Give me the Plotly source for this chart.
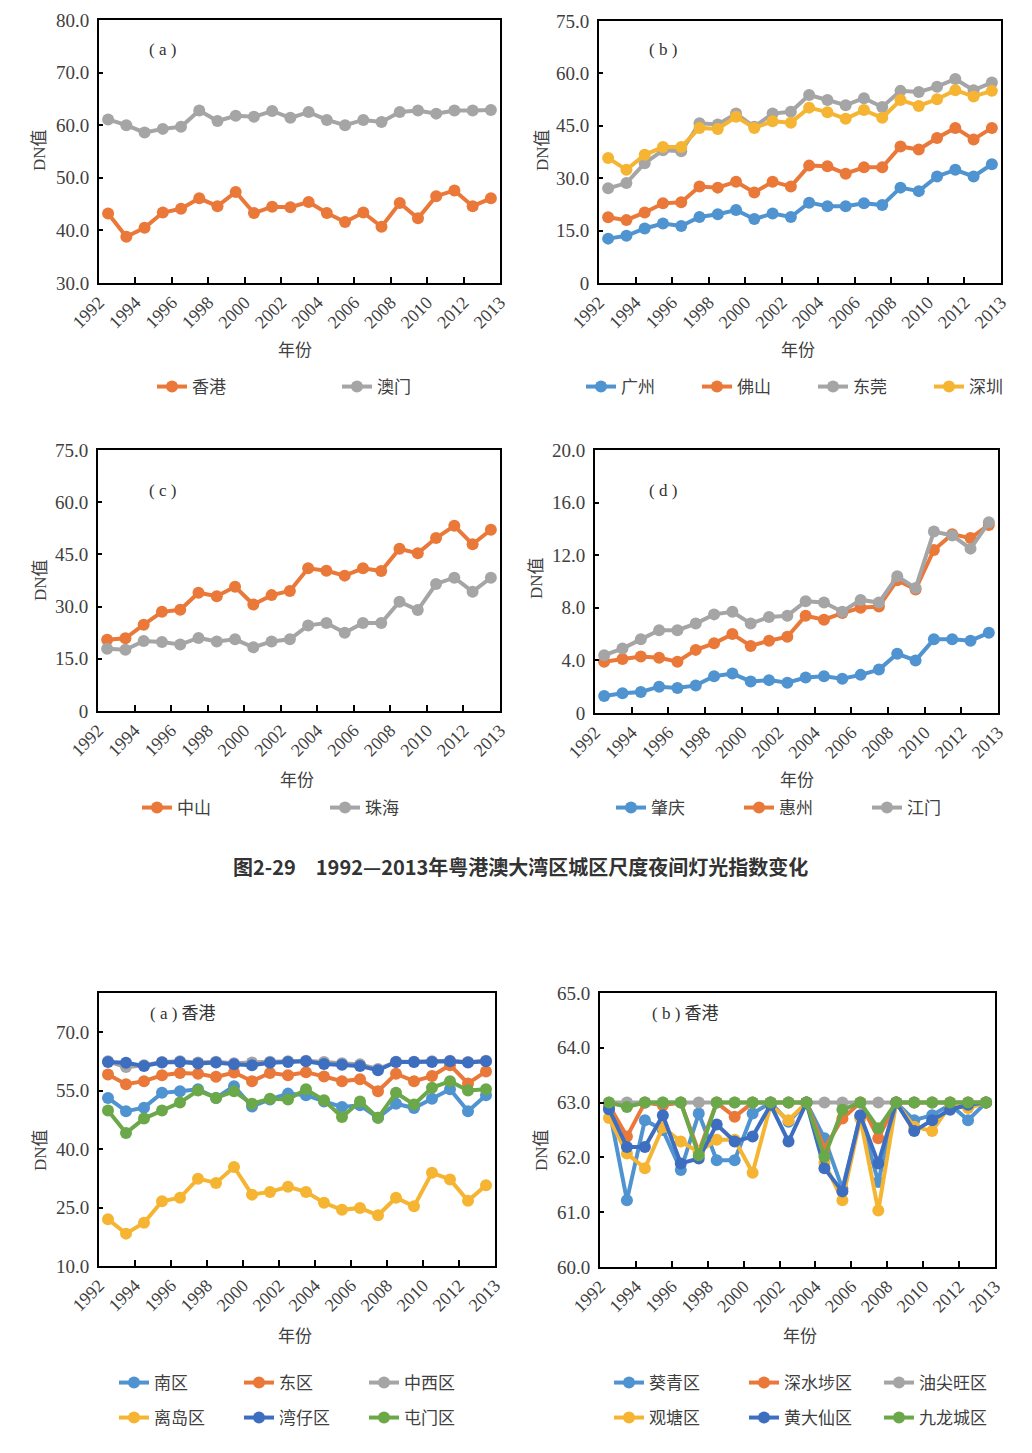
import plotly.graph_objects as go

W, H = 1032, 1453
PAD = 8                      # browser default body margin
FW, FH = W - 2 * PAD, H - 2 * PAD

# ---------------- data ----------------
years = [1992, 1993, 1994, 1995, 1996, 1997, 1998, 1999, 2000, 2001, 2002,
         2003, 2004, 2005, 2006, 2007, 2008, 2009, 2010, 2011, 2012, 2013]
xtick_text = ['1992', '1994', '1996', '1998', '2000', '2002', '2004',
              '2006', '2008', '2010', '2012', '2013']

# (a) 香港 / 澳门
hongkong = [43.2, 38.8, 40.5, 43.4, 44.1, 46.1, 44.6, 47.3, 43.3, 44.5, 44.4,
            45.4, 43.3, 41.6, 43.4, 40.7, 45.2, 42.3, 46.5, 47.6, 44.6, 46.1]
macau = [61.1, 60.0, 58.6, 59.3, 59.7, 62.8, 60.8, 61.8, 61.6, 62.7, 61.4,
         62.5, 61.0, 60.0, 61.0, 60.6, 62.5, 62.8, 62.2, 62.8, 62.8, 62.9]

# (b) 广州 / 佛山 / 东莞 / 深圳
guangzhou = [12.7, 13.5, 15.6, 17.0, 16.3, 18.9, 19.7, 20.9, 18.3, 19.9, 18.9,
             23.0, 22.0, 22.0, 22.8, 22.3, 27.3, 26.3, 30.5, 32.4, 30.5, 34.0]
foshan = [18.8, 18.0, 20.2, 22.8, 23.1, 27.6, 27.3, 29.0, 25.9, 29.0, 27.6,
          33.6, 33.4, 31.3, 33.1, 33.1, 39.1, 38.2, 41.5, 44.4, 41.1, 44.4]
dongguan = [27.1, 28.6, 34.3, 38.0, 37.7, 45.7, 45.4, 48.5, 44.7, 48.5, 49.0,
            53.8, 52.4, 50.9, 52.9, 50.4, 55.0, 54.7, 56.2, 58.4, 55.2, 57.4]
shenzhen = [35.8, 32.4, 36.7, 38.9, 38.9, 44.4, 44.1, 47.6, 44.4, 46.3, 45.9,
            50.2, 48.9, 47.0, 49.5, 47.3, 52.4, 50.7, 52.6, 55.2, 53.4, 55.0]

# (c) 中山 / 珠海
zhongshan = [20.5, 20.9, 24.8, 28.5, 29.1, 34.0, 33.0, 35.7, 30.6, 33.3, 34.5,
             41.0, 40.3, 38.9, 41.0, 40.2, 46.6, 45.3, 49.7, 53.2, 47.9, 52.1]
zhuhai = [17.9, 17.6, 20.1, 19.8, 19.1, 21.0, 20.0, 20.6, 18.3, 20.0, 20.6,
          24.6, 25.3, 22.5, 25.3, 25.3, 31.4, 29.0, 36.5, 38.3, 34.3, 38.3]

# (d) 肇庆 / 惠州 / 江门
zhaoqing = [1.3, 1.5, 1.6, 2.0, 1.9, 2.1, 2.8, 3.0, 2.4, 2.5, 2.3,
            2.7, 2.8, 2.6, 2.9, 3.3, 4.5, 4.0, 5.6, 5.6, 5.5, 6.1]
huizhou = [3.9, 4.1, 4.3, 4.2, 3.9, 4.8, 5.3, 6.0, 5.1, 5.5, 5.8,
           7.4, 7.1, 7.6, 8.0, 8.1, 10.1, 9.4, 12.4, 13.6, 13.3, 14.3]
jiangmen = [4.4, 4.9, 5.6, 6.3, 6.3, 6.8, 7.5, 7.7, 6.8, 7.3, 7.4,
            8.5, 8.4, 7.7, 8.6, 8.4, 10.4, 9.5, 13.8, 13.5, 12.5, 14.5]

# Hong Kong districts (a)
southern = [53.1, 49.7, 50.6, 54.4, 54.8, 55.3, 53.1, 56.1, 50.9, 52.7, 54.2,
            53.8, 52.2, 50.8, 51.2, 48.0, 51.6, 50.5, 52.9, 55.3, 49.7, 53.8]
eastern = [59.1, 56.6, 57.4, 58.9, 59.5, 59.3, 58.5, 59.6, 57.4, 59.5, 58.9,
           59.7, 58.6, 57.4, 57.9, 54.8, 59.3, 57.4, 58.7, 61.5, 56.8, 59.9]
central_western = [62.5, 61.0, 61.5, 62.3, 62.5, 62.2, 62.4, 62.0, 62.2, 62.4, 62.5,
                   62.6, 62.3, 62.0, 61.7, 60.5, 62.4, 62.4, 62.5, 62.6, 62.3, 62.6]
islands = [22.0, 18.3, 21.1, 26.6, 27.5, 32.4, 31.3, 35.4, 28.3, 29.0, 30.3,
           29.0, 26.2, 24.4, 24.9, 23.0, 27.5, 25.3, 33.9, 32.2, 26.7, 30.7]
wanchai = [62.3, 62.1, 61.3, 62.2, 62.3, 61.9, 62.2, 61.7, 61.5, 62.1, 62.3,
           62.5, 61.8, 61.6, 61.3, 60.2, 62.3, 62.3, 62.3, 62.5, 62.2, 62.5]
tuenmun = [49.9, 44.1, 47.8, 49.9, 51.9, 55.0, 53.1, 54.8, 51.6, 52.9, 52.7,
           55.3, 52.5, 48.2, 52.2, 48.0, 54.4, 51.4, 55.7, 57.4, 55.0, 55.3]

# Hong Kong districts (b)
kwaitsing = [62.90, 61.22, 62.68, 62.50, 61.77, 62.80, 61.95, 61.95, 62.80, 63.00, 62.65,
             63.00, 62.35, 61.43, 62.74, 61.55, 63.00, 62.68, 62.77, 62.96, 62.68, 63.00]
shamshuipo = [62.95, 62.38, 63.00, 62.95, 63.00, 62.10, 63.00, 62.74, 63.00, 63.00, 63.00,
              63.00, 62.16, 62.71, 63.00, 62.35, 63.00, 63.00, 63.00, 63.00, 63.00, 63.00]
yautsimmong = [63.0, 63.0, 63.0, 63.0, 63.0, 63.0, 63.0, 63.0, 63.0, 63.0, 63.0,
               63.0, 63.0, 63.0, 63.0, 63.0, 63.0, 63.0, 63.0, 63.0, 63.0, 63.0]
kwuntong = [62.72, 62.07, 61.80, 62.55, 62.29, 62.10, 62.32, 62.32, 61.72, 62.95, 62.68,
            63.00, 61.90, 61.22, 62.71, 61.03, 63.00, 62.56, 62.48, 62.95, 62.90, 63.00]
wongtaisin = [62.88, 62.19, 62.19, 62.77, 61.89, 61.98, 62.60, 62.29, 62.38, 62.96, 62.29,
              63.00, 61.80, 61.38, 62.77, 61.89, 63.00, 62.48, 62.68, 62.87, 62.96, 63.00]
kowlooncity = [63.00, 62.92, 63.00, 63.00, 63.00, 62.04, 63.00, 63.00, 63.00, 63.00, 63.00,
               63.00, 62.01, 62.87, 63.00, 62.53, 63.00, 63.00, 63.00, 63.00, 63.00, 63.00]

# y tick values / labels per panel
yt_a = [30, 40, 50, 60, 70, 80]
yl_a = ['30.0', '40.0', '50.0', '60.0', '70.0', '80.0']
yt_b = [0, 15, 30, 45, 60, 75]
yl_b = ['0', '15.0', '30.0', '45.0', '60.0', '75.0']
yt_d = [0, 4, 8, 12, 16, 20]
yl_d = ['0', '4.0', '8.0', '12.0', '16.0', '20.0']
yt_e = [10, 25, 40, 55, 70]
yl_e = ['10.0', '25.0', '40.0', '55.0', '70.0']
yt_f = [60, 61, 62, 63, 64, 65]
yl_f = ['60.0', '61.0', '62.0', '63.0', '64.0', '65.0']

# ---------------- style ----------------
BLUE = '#4F93D0'
ORANGE = '#EA7839'
GRAY = '#A5A5A5'
YELLOW = '#F5B533'
DBLUE = '#3E6EC0'
GREEN = '#6BA84A'
TXT = '#404040'
SERIF = 'Liberation Serif, Noto Sans CJK SC'


def fx(px):
    return (px - PAD) / FW


def fy(py):
    return 1 - (py - PAD) / FH


# panel boxes in screen pixel coords: (left, right, top, bottom)
panels = [
    dict(box=(99, 500, 20, 283), yr=(30, 80), yt=yt_a, yl=yl_a, lab='( a )', lab_xy=(162, 49),
         dn_xy=(40, 150), nf_xy=(295, 350)),
    dict(box=(599, 1001, 21, 283), yr=(0, 75), yt=yt_b, yl=yl_b, lab='( b )', lab_xy=(663, 49),
         dn_xy=(543, 150), nf_xy=(798, 350)),
    dict(box=(98, 500, 450, 711), yr=(0, 75), yt=yt_b, yl=yl_b, lab='( c )', lab_xy=(162, 491),
         dn_xy=(40, 580), nf_xy=(297, 780)),
    dict(box=(595, 998, 450, 713), yr=(0, 20), yt=yt_d, yl=yl_d, lab='( d )', lab_xy=(663, 490),
         dn_xy=(537, 578), nf_xy=(797, 780)),
    dict(box=(99, 495, 993, 1266), yr=(10, 80), yt=yt_e, yl=yl_e, lab='( a ) 香港', lab_xy=(183, 1013),
         dn_xy=(40, 1150), nf_xy=(295, 1336)),
    dict(box=(600, 995, 993, 1267), yr=(60, 65), yt=yt_f, yl=yl_f, lab='( b ) 香港', lab_xy=(685, 1013),
         dn_xy=(541, 1150), nf_xy=(800, 1336)),
]

# series: name, values, color, panel index, legend id
series = [
    ('香港', hongkong, ORANGE, 0, 'legend'),
    ('澳门', macau, GRAY, 0, 'legend'),
    ('广州', guangzhou, BLUE, 1, 'legend2'),
    ('佛山', foshan, ORANGE, 1, 'legend2'),
    ('东莞', dongguan, GRAY, 1, 'legend2'),
    ('深圳', shenzhen, YELLOW, 1, 'legend2'),
    ('中山', zhongshan, ORANGE, 2, 'legend3'),
    ('珠海', zhuhai, GRAY, 2, 'legend3'),
    ('肇庆', zhaoqing, BLUE, 3, 'legend4'),
    ('惠州', huizhou, ORANGE, 3, 'legend4'),
    ('江门', jiangmen, GRAY, 3, 'legend4'),
    ('南区', southern, BLUE, 4, 'legend5'),
    ('东区', eastern, ORANGE, 4, 'legend5'),
    ('中西区', central_western, GRAY, 4, 'legend5'),
    ('离岛区', islands, YELLOW, 4, 'legend6'),
    ('湾仔区', wanchai, DBLUE, 4, 'legend6'),
    ('屯门区', tuenmun, GREEN, 4, 'legend6'),
    ('葵青区', kwaitsing, BLUE, 5, 'legend7'),
    ('深水埗区', shamshuipo, ORANGE, 5, 'legend7'),
    ('油尖旺区', yautsimmong, GRAY, 5, 'legend7'),
    ('观塘区', kwuntong, YELLOW, 5, 'legend8'),
    ('黄大仙区', wongtaisin, DBLUE, 5, 'legend8'),
    ('九龙城区', kowlooncity, GREEN, 5, 'legend8'),
]

# legend placement: first text start px, center y px, entry step px
legends = {
    'legend': (193, 387, 185),
    'legend2': (622, 387, 116),
    'legend3': (178, 808, 188),
    'legend4': (652, 808, 128),
    'legend5': (155, 1383, 125),
    'legend6': (155, 1418, 125),
    'legend7': (650, 1383, 135),
    'legend8': (650, 1418, 135),
}

fig = go.Figure()

for name, vals, color, pi, lg in series:
    sfx = '' if pi == 0 else str(pi + 1)
    fig.add_trace(go.Scatter(
        x=years, y=vals, name=name, mode='lines+markers',
        line=dict(color=color, width=4),
        marker=dict(color=color, size=12),
        xaxis='x' + sfx, yaxis='y' + sfx, legend=lg,
    ))

layout = dict(
    width=FW, height=FH, margin=dict(l=0, r=0, t=0, b=0, autoexpand=False),
    paper_bgcolor='white', plot_bgcolor='white',
    showlegend=True,
    font=dict(family=SERIF, color=TXT),
)

xtick_vals = [years[0] - 0.5 + 2 * i for i in range(11)] + [years[-1] + 0.5]

annotations = []
for i, p in enumerate(panels):
    sfx = '' if i == 0 else str(i + 1)
    l, r, t, b = p['box']
    layout['xaxis' + sfx] = dict(
        domain=[fx(l), fx(r)], anchor='y' + sfx, automargin=False,
        range=[years[0] - 0.5, years[-1] + 0.5],
        tickmode='array', tickvals=xtick_vals, ticktext=xtick_text,
        tickangle=-45, ticks='inside', ticklen=6, tickwidth=2, tickcolor='black',
        showline=True, linecolor='black', linewidth=2, mirror=True,
        showgrid=False, zeroline=False,
        tickfont=dict(family=SERIF, size=18, color=TXT),
    )
    layout['yaxis' + sfx] = dict(
        domain=[fy(b), fy(t)], anchor='x' + sfx, automargin=False,
        range=list(p['yr']),
        tickmode='array', tickvals=p['yt'], ticktext=p['yl'],
        ticks='inside', ticklen=4, tickwidth=2, tickcolor='black',
        showline=True, linecolor='black', linewidth=2, mirror=True,
        showgrid=False, zeroline=False,
        ticklabelstandoff=4,
        tickfont=dict(family=SERIF, size=19, color=TXT),
    )
    annotations.append(dict(
        x=fx(p['lab_xy'][0]), y=fy(p['lab_xy'][1]), xref='paper', yref='paper',
        text=p['lab'], showarrow=False, xanchor='center', yanchor='middle',
        font=dict(family=SERIF, size=17, color='#333333'),
    ))
    annotations.append(dict(
        x=fx(p['dn_xy'][0]), y=fy(p['dn_xy'][1]), xref='paper', yref='paper',
        text='DN值', textangle=-90, showarrow=False, xanchor='center', yanchor='middle',
        font=dict(family=SERIF, size=17, color=TXT),
    ))
    annotations.append(dict(
        x=fx(p['nf_xy'][0]), y=fy(p['nf_xy'][1]), xref='paper', yref='paper',
        text='年份', showarrow=False, xanchor='center', yanchor='middle',
        font=dict(family=SERIF, size=17, color=TXT),
    ))

annotations.append(dict(
    x=fx(520), y=fy(866), xref='paper', yref='paper',
    text='<b>图2-29　1992—2013年粤港澳大湾区城区尺度夜间灯光指数变化</b>',
    showarrow=False, xanchor='center', yanchor='middle',
    font=dict(family='Noto Sans CJK SC', size=20, color='#333333'),
))
layout['annotations'] = annotations

for lg, (tx0, yc, step) in legends.items():
    layout[lg] = dict(
        orientation='h', x=fx(tx0 - 41), y=fy(yc), xanchor='left', yanchor='middle',
        entrywidthmode='pixels', entrywidth=step - 45,
        bgcolor='rgba(0,0,0,0)', borderwidth=0,
        font=dict(family=SERIF, size=17, color=TXT),
        itemclick=False, itemdoubleclick=False,
    )

fig.update_layout(**layout)
fig.write_html('out.html')
